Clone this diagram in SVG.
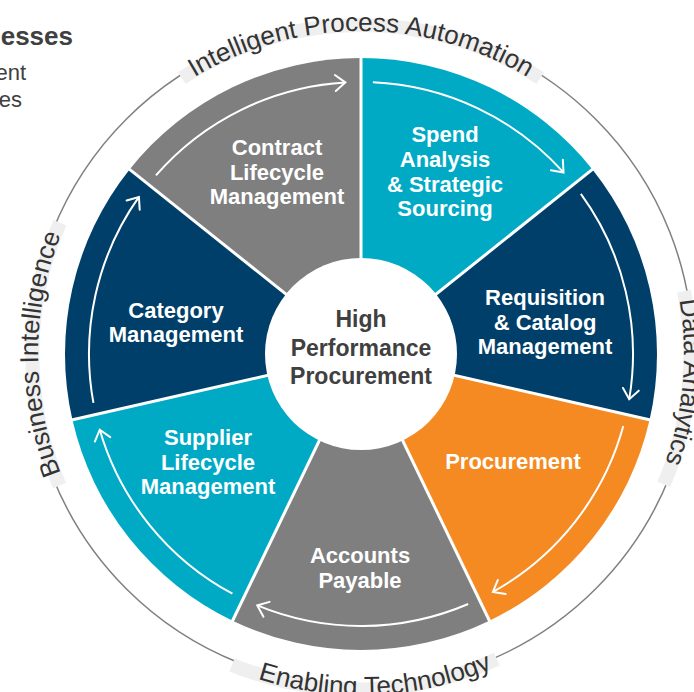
<svg xmlns="http://www.w3.org/2000/svg" width="694" height="692" viewBox="0 0 694 692">
  <style>
    .lbl { fill:#ffffff; font-family:"Liberation Sans", Arial, sans-serif; font-weight:bold; font-size:22px; text-anchor:middle; }
    .ctr { fill:#404040; font-family:"Liberation Sans", Arial, sans-serif; font-weight:bold; font-size:23px; text-anchor:middle; }
    .ring { fill:#333333; font-family:"Liberation Sans", Arial, sans-serif; font-size:26px; text-anchor:middle; }
    .band { fill:none; stroke:#efefef; stroke-width:14; }
    .arr { fill:none; stroke:#ffffff; stroke-width:2; marker-end:url(#ah); }
    .div { stroke:#ffffff; stroke-width:3; }
    .side { fill:#404040; font-family:"Liberation Sans", Arial, sans-serif; text-anchor:end; }
  </style>
  <defs>
    <marker id="ah" markerUnits="userSpaceOnUse" viewBox="-12 -10 14 20" refX="0" refY="0" markerWidth="14" markerHeight="20" orient="auto" overflow="visible">
      <path d="M-10,-8 L0,0 L-10,8" fill="none" stroke="#ffffff" stroke-width="2" stroke-linecap="round" stroke-linejoin="miter"/>
    </marker>
    <path id="pTop" d="M42.91,297.91 A323,323 0 0 1 679.09,297.91"/>
    <path id="pRight" d="M444.60,42.00 A323,323 0 0 1 389.15,675.77"/>
    <path id="pLeft" d="M304.91,672.09 A323,323 0 0 1 304.91,35.91"/>
    <path id="pBottom" d="M28.08,427.81 A341,341 0 0 0 699.08,398.51"/>
  </defs>

  <rect x="0" y="0" width="694" height="692" fill="#ffffff"/>

  <!-- partially visible side text -->
  <g id="side-text">
    <text class="side" x="73" y="45" font-size="26" font-weight="bold">esses</text>
    <text class="side" x="26" y="80" font-size="22" fill="#4d4d4d">ent</text>
    <text class="side" x="22" y="107" font-size="22" fill="#4d4d4d">es</text>
  </g>

  <!-- outer ring with labels -->
  <g id="outer-ring">
    <circle cx="361" cy="354" r="332" fill="none" stroke="#808080" stroke-width="1.5"/>
    <path class="band" d="M181.81,78.07 A329,329 0 0 1 540.19,78.07"/>
    <path class="band" d="M684.00,291.23 A329,329 0 0 1 663.77,484.50"/>
    <path class="band" d="M59.55,485.58 A329,329 0 0 1 59.89,222.82"/>
    <path class="band" d="M232.00,664.91 A334,334 0 0 0 496.85,659.12"/>
    <text class="ring"><textPath href="#pTop" startOffset="50%">Intelligent Process Automation</textPath></text>
    <text class="ring"><textPath href="#pRight" startOffset="50%">Data Analytics</textPath></text>
    <text class="ring"><textPath href="#pLeft" startOffset="50%">Business Intelligence</textPath></text>
    <text class="ring"><textPath href="#pBottom" startOffset="50%">Enabling Technology</textPath></text>
  </g>

  <!-- wedges -->
  <g id="contract-lifecycle">
    <path d="M361,354 L129.58,169.45 A296,296 0 0 1 361,58 Z" fill="#7f7f7f"/>
    <text class="lbl" x="277" y="155">Contract</text>
    <text class="lbl" x="277" y="179.5">Lifecycle</text>
    <text class="lbl" x="277" y="204">Management</text>
  </g>
  <g id="spend-analysis">
    <path d="M361,354 L361,58 A296,296 0 0 1 592.42,169.45 Z" fill="#00aac4"/>
    <text class="lbl" x="445" y="142">Spend</text>
    <text class="lbl" x="445" y="167">Analysis</text>
    <text class="lbl" x="445" y="192">&amp; Strategic</text>
    <text class="lbl" x="445" y="216">Sourcing</text>
  </g>
  <g id="requisition-catalog">
    <path d="M361,354 L592.42,169.45 A296,296 0 0 1 649.58,419.87 Z" fill="#003f69"/>
    <text class="lbl" x="545" y="305">Requisition</text>
    <text class="lbl" x="545" y="329.5">&amp; Catalog</text>
    <text class="lbl" x="545" y="354">Management</text>
  </g>
  <g id="procurement">
    <path d="M361,354 L649.58,419.87 A296,296 0 0 1 489.43,620.69 Z" fill="#f48a21"/>
    <text class="lbl" x="513" y="469">Procurement</text>
  </g>
  <g id="accounts-payable">
    <path d="M361,354 L489.43,620.69 A296,296 0 0 1 232.57,620.69 Z" fill="#7f7f7f"/>
    <text class="lbl" x="360" y="563">Accounts</text>
    <text class="lbl" x="360" y="588">Payable</text>
  </g>
  <g id="supplier-lifecycle">
    <path d="M361,354 L232.57,620.69 A296,296 0 0 1 72.42,419.87 Z" fill="#00aac4"/>
    <text class="lbl" x="208" y="445">Supplier</text>
    <text class="lbl" x="208" y="470">Lifecycle</text>
    <text class="lbl" x="208" y="494">Management</text>
  </g>
  <g id="category-management">
    <path d="M361,354 L72.42,419.87 A296,296 0 0 1 129.58,169.45 Z" fill="#003f69"/>
    <text class="lbl" x="176" y="318">Category</text>
    <text class="lbl" x="176" y="342">Management</text>
  </g>

  <!-- connectors: dividers and cycle arrows -->
  <g id="connectors">
    <line class="div" x1="361" y1="354" x2="361" y2="56"/>
    <line class="div" x1="361" y1="354" x2="593.98" y2="168.20"/>
    <line class="div" x1="361" y1="354" x2="651.53" y2="420.32"/>
    <line class="div" x1="361" y1="354" x2="490.30" y2="622.49"/>
    <line class="div" x1="361" y1="354" x2="231.70" y2="622.49"/>
    <line class="div" x1="361" y1="354" x2="70.47" y2="420.32"/>
    <line class="div" x1="361" y1="354" x2="128.02" y2="168.20"/>

    <path class="arr" d="M372.86,82.26 A272,272 0 0 1 563.55,172.45"/>
    <path class="arr" d="M580.86,193.85 A272,272 0 0 1 629.22,399.18"/>
    <path class="arr" d="M623.29,426.05 A272,272 0 0 1 492.91,591.87"/>
    <path class="arr" d="M468.20,603.99 A272,272 0 0 1 257.26,605.45"/>
    <path class="arr" d="M232.42,593.69 A272,272 0 0 1 99.75,429.70"/>
    <path class="arr" d="M93.43,402.91 A272,272 0 0 1 138.93,196.94"/>
    <path class="arr" d="M155.94,175.33 A272,272 0 0 1 345.34,82.45"/>
  </g>

  <!-- hub -->
  <g id="hub">
    <circle cx="361" cy="354" r="96" fill="#ffffff"/>
    <text class="ctr" x="361" y="327">High</text>
    <text class="ctr" x="361" y="356">Performance</text>
    <text class="ctr" x="361" y="384">Procurement</text>
  </g>
</svg>
